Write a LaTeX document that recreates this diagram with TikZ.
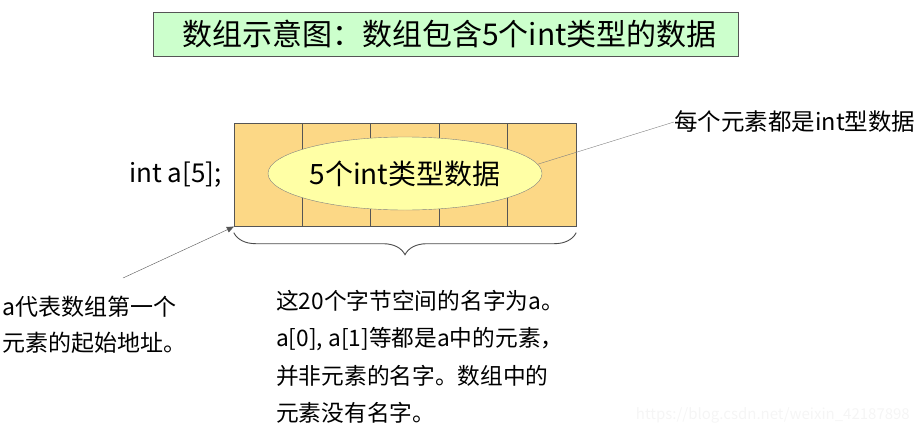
\documentclass[tikz,border=0pt]{standalone}
\usepackage{fontspec}
\setmainfont{Noto Sans CJK SC}
\usetikzlibrary{arrows.meta}
\usetikzlibrary{positioning}
\usetikzlibrary{calc}
\usetikzlibrary{shapes.geometric}
\usetikzlibrary{decorations.pathreplacing}
\usetikzlibrary{math}
\definecolor{titlegreen}{RGB}{204,255,204}
\definecolor{cellorange}{RGB}{252,216,134}
\definecolor{ovalyellow}{RGB}{255,255,165}
\definecolor{edgegray}{RGB}{85,85,85}
\tikzset{>={Triangle[length=7pt,width=6pt]}}
\tikzset{
    titlebox/.style={draw=edgegray, fill=titlegreen, minimum width=585pt, minimum height=44pt, inner sep=0pt, font=\fontsize{30}{32}\selectfont},
    cellrow/.style={draw=edgegray, fill=cellorange, minimum width=342pt, minimum height=103pt, inner sep=0pt},
    oval/.style={ellipse, draw=gray, fill=ovalyellow, minimum width=274pt, minimum height=73pt, inner sep=0pt, font=\fontsize{28}{30}\selectfont},
    label/.style={inner sep=0pt, align=left, font=\fontsize{22.7}{37.3}\selectfont},
}
\def\bigtext{\fontsize{23.5}{26}\selectfont}
\begin{document}
\begin{tikzpicture}[x=1pt,y=-1pt]
	\tikzmath{\w = 342/5;}
	\useasboundingbox (0,0) rectangle (921,434);
	\node[titlebox] (title) at (445.5,34) {\hspace{8pt}数组示意图：数组包含5个int类型的数据};
	
	\node[cellrow] (arr) at (405,175) {};
	\foreach \i in {1,...,4}
		\draw[edgegray] ($(arr.north west)+(\i*\w,0)$) -- ($(arr.south west)+(\i*\w,0)$);
	\node[oval] (ell) at (405,173.5) {5个int类型数据};
	\node[inner sep=0pt, font=\fontsize{26}{28}\selectfont, left=12pt of arr] (decl) {int a[5];};
	
	\draw[black!70, line width=0.9pt, decorate, decoration={brace, mirror, amplitude=22pt}] ([yshift=-6pt]arr.south west) -- ([yshift=-6pt]arr.south east);
	\node[label, anchor=north west] (note) at (276,290) {这20个字节空间的名字为a。\\a[0], a[1]等都是a中的元素，\\并非元素的名字。数组中的\\元素没有名字。};
	
	\node[inner sep=0pt, font=\bigtext, anchor=west] (each) at (674,122) {每个元素都是int型数据};
	\draw[gray] (ell.4) -- (each.west);
	
	\node[label, anchor=north west, font=\fontsize{23}{36}\selectfont] (start) at (2,296) {a代表数组第一个\\元素的起始地址。};
	\coordinate (tail) at (123,278);
	\draw[->, edgegray] (tail) -- (arr.south west);
	
	\node[inner sep=0pt, text=gray!8, font=\fontsize{15}{17}\selectfont, anchor=east] (mark) at (910,415) {https://blog.csdn.net/weixin\_42187898};
\end{tikzpicture}
\end{document}
